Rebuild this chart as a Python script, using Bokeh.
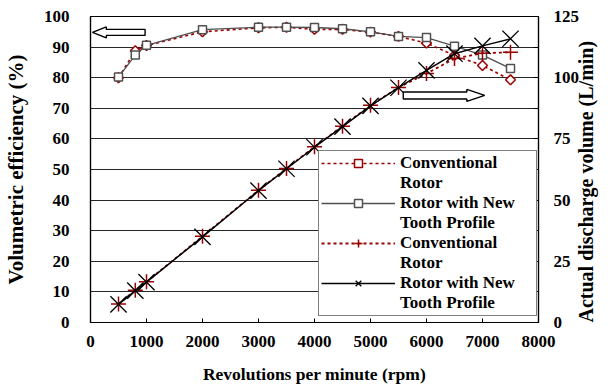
import numpy as np
from bokeh.plotting import figure
from bokeh.models import Range1d, LinearAxis, FixedTicker, Legend, LegendItem
from bokeh.embed import file_html
from bokeh.resources import INLINE

# ---- data ----
rpm = [500, 800, 1000, 2000, 3000, 3500, 4000, 4500, 5000, 5500, 6000, 6500, 7000, 7500]
eff_conv = [80.0, 88.8, 90.5, 95.0, 96.3, 96.5, 95.8, 95.8, 94.9, 93.5, 91.3, 87.3, 84.0, 79.3]
eff_new = [80.2, 87.4, 90.6, 95.7, 96.5, 96.5, 96.4, 96.0, 95.0, 93.5, 93.1, 90.3, 87.4, 83.0]
vol_conv = [7.6, 13.2, 16.6, 35.2, 54.0, 62.9, 71.8, 80.2, 88.7, 96.0, 101.7, 107.8, 110.0, 110.4]
vol_new = [7.4, 13.0, 16.5, 35.0, 53.9, 62.8, 71.6, 80.0, 88.5, 95.9, 103.0, 109.8, 113.0, 115.9]

x_ticks = [0, 1000, 2000, 3000, 4000, 5000, 6000, 7000, 8000]
left_ticks = [0, 10, 20, 30, 40, 50, 60, 70, 80, 90, 100]
right_ticks = [0, 25, 50, 75, 100, 125]
right_minor = [12.5, 37.5, 62.5, 87.5, 112.5]
label_lines = [["Conventional", "Rotor"], ["Rotor with New", "Tooth Profile"],
               ["Conventional", "Rotor"], ["Rotor with New", "Tooth Profile"]]
x_title = "Revolutions per minute (rpm)"
left_title = "Volumetric efficiency (%)"
right_title = "Actual discharge volume (L/min)"

RED = "#990000"
GRAY = "#505050"
FONT = "Liberation Serif"

FW, FH = 452, 306
p = figure(width=611, height=392, x_range=Range1d(0, 8000), y_range=Range1d(0, 100),
           output_backend="svg", toolbar_location=None,
           min_border_left=88, min_border_right=71, min_border_top=16, min_border_bottom=70)
p.extra_y_ranges = {"vol": Range1d(0, 125)}
p.background_fill_color = "white"
p.border_fill_color = "white"
p.outline_line_color = "black"
p.outline_line_width = 1.2

def style_axis(ax):
    ax.major_label_text_font = FONT
    ax.major_label_text_font_style = "bold"
    ax.major_label_text_font_size = "17px"
    ax.major_label_text_color = "black"
    ax.axis_label_text_font = FONT
    ax.axis_label_text_font_style = "bold"
    ax.axis_label_text_color = "black"
    ax.axis_line_color = "black"
    ax.axis_line_width = 1.2
    ax.major_tick_line_color = "black"
    ax.minor_tick_line_color = "black"
    ax.major_tick_out = 0
    ax.minor_tick_out = 0

xa = p.xaxis[0]
style_axis(xa)
xa.ticker = FixedTicker(ticks=x_ticks)
xa.major_tick_in = 4
xa.minor_tick_in = 0
xa.major_label_standoff = 13
xa.axis_label = x_title
xa.axis_label_text_font_size = "17.5px"
xa.axis_label_standoff = 14

ya = p.yaxis[0]
style_axis(ya)
ya.ticker = FixedTicker(ticks=left_ticks)
ya.major_tick_in = 0
ya.minor_tick_in = 0
ya.major_label_standoff = 21
ya.axis_label = left_title
ya.axis_label_text_font_size = "21px"
ya.axis_label_standoff = 13

ra = LinearAxis(y_range_name="vol", ticker=FixedTicker(ticks=right_ticks, minor_ticks=right_minor))
style_axis(ra)
ra.major_tick_in = 5
ra.minor_tick_in = 5
ra.major_label_standoff = 15
ra.axis_label = right_title
ra.axis_label_text_font_size = "20px"
ra.axis_label_standoff = 4
ra.axis_label_orientation = np.pi / 2
if "axis_label_align" in ra.properties():
    ra.axis_label_align = "start"
p.add_layout(ra, "right")

p.xgrid.visible = False
p.ygrid.ticker = FixedTicker(ticks=left_ticks)
p.ygrid.grid_line_color = "black"
p.ygrid.grid_line_alpha = 0.85
p.ygrid.grid_line_width = 1

# ---- series ----
l1 = p.line(rpm, eff_conv, line_color=RED, line_width=1.6, line_dash="3 3")
m1 = p.scatter(rpm, eff_conv, marker="square", angle=np.pi / 4, size=7,
               line_color=RED, fill_color="white", line_width=1.5)
l2 = p.line(rpm, eff_new, line_color=GRAY, line_width=1.3)
m2 = p.scatter(rpm, eff_new, marker="square", size=8,
               line_color=GRAY, fill_color="white", line_width=1.5)
l3 = p.line(rpm, vol_conv, line_color=RED, line_width=1.8, line_dash="3 3", y_range_name="vol")
m3 = p.scatter(rpm, vol_conv, marker="cross", size=15, line_color=RED, line_width=1.5,
               y_range_name="vol")
l4 = p.line(rpm, vol_new, line_color="black", line_width=1.5, y_range_name="vol")
m4 = p.scatter(rpm, vol_new, marker="x", size=23, line_color="black", line_width=1.3,
               y_range_name="vol")

# invisible renderer used for the wrapped second line of each legend label
blank = p.line([], [], line_alpha=0)

# ---- block arrows (annotations) ----
def block_arrow(x_tail, x_tip, y, head_len_px, head_half_px, shaft_half_px):
    sx = FW / 8000.0
    sy = FH / 100.0
    d = np.sign(x_tip - x_tail)
    xb = x_tip - d * head_len_px / sx
    hh = head_half_px / sy
    sh = shaft_half_px / sy
    xs = [x_tail, xb, xb, x_tip, xb, xb, x_tail]
    ys = [y + sh, y + sh, y + hh, y, y - hh, y - sh, y - sh]
    p.patch(xs, ys, fill_color="white", line_color="black", line_width=1.4)

block_arrow(975, 35, 94.8, 14, 5.5, 3)
block_arrow(5585, 7039, 74.2, 18, 6, 3.5)

# ---- legend ----
items = []
for (first, second), rends in zip(label_lines, [[l1, m1], [l2, m2], [l3, m3], [l4, m4]]):
    items.append(LegendItem(label=first, renderers=rends))
    items.append(LegendItem(label=second, renderers=[blank]))
legend = Legend(items=items, location=(228, 6), orientation="vertical")
legend.label_text_font = FONT
legend.label_text_font_style = "bold"
legend.label_text_font_size = "17px"
legend.label_text_color = "black"
legend.glyph_width = 74
legend.glyph_height = 20
legend.label_height = 20
legend.label_width = 134
legend.label_standoff = 5
legend.spacing = 0
legend.padding = 2
legend.margin = 0
legend.border_line_color = "black"
legend.border_line_width = 1.2
legend.background_fill_alpha = 1.0
p.add_layout(legend)

open("out.html", "w").write(file_html(p, INLINE))
